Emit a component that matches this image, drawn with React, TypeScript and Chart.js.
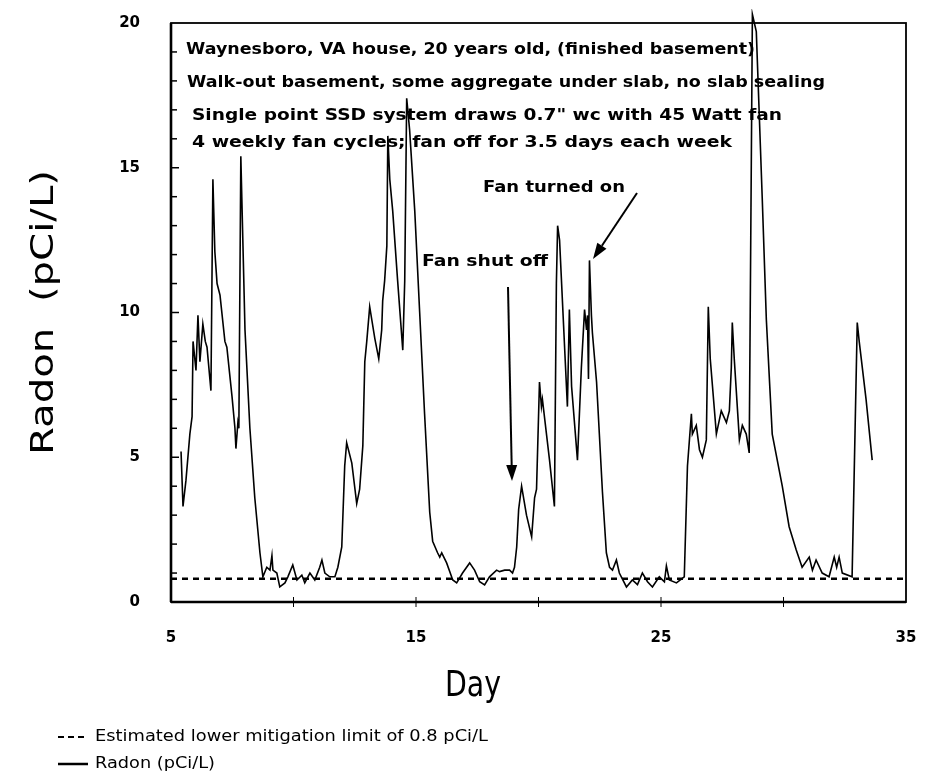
import React, { useEffect, useRef } from "react";
import { Chart, registerables } from "chart.js";

Chart.register(...registerables);

// ---- data ----
const days = [5.41,5.49,5.61,5.77,5.86,5.90,6.02,6.10,6.18,6.30,6.40,6.47,6.63,6.71,6.79,6.88,7.00,7.20,7.28,7.49,7.61,7.65,7.73,7.77,7.85,8.02,8.22,8.42,8.63,8.75,8.91,9.04,9.12,9.16,9.32,9.44,9.65,9.77,9.97,10.14,10.34,10.46,10.67,10.87,11.07,11.16,11.28,11.48,11.69,11.81,11.97,12.09,12.17,12.38,12.58,12.70,12.83,12.91,12.99,13.11,13.32,13.48,13.60,13.64,13.72,13.81,13.85,13.93,14.05,14.25,14.46,14.54,14.62,14.74,14.95,15.15,15.35,15.56,15.68,15.88,15.97,16.05,16.25,16.50,16.66,16.90,17.19,17.39,17.60,17.80,18.00,18.29,18.41,18.62,18.82,18.94,19.02,19.11,19.19,19.31,19.51,19.72,19.84,19.92,20.04,20.12,20.16,20.45,20.65,20.73,20.78,20.86,21.14,21.18,21.26,21.35,21.59,21.75,21.88,21.96,22.00,22.04,22.08,22.16,22.20,22.37,22.61,22.77,22.90,23.02,23.18,23.30,23.59,23.83,24.04,24.24,24.45,24.65,24.93,25.14,25.22,25.34,25.63,25.95,26.08,26.24,26.28,26.44,26.57,26.69,26.85,26.93,27.01,27.26,27.46,27.67,27.79,27.87,27.91,27.99,28.20,28.32,28.48,28.60,28.73,28.89,29.13,29.30,29.54,29.95,30.23,30.52,30.76,31.05,31.18,31.33,31.58,31.86,32.07,32.17,32.27,32.40,32.80,33.01,33.09,33.37,33.62];
const radon = [5.2,3.3,4.2,5.8,6.4,9.0,8.0,9.9,8.3,9.6,9.0,8.8,7.3,14.6,12.1,11.0,10.6,9.0,8.8,7.1,6.0,5.3,6.2,6.0,15.4,9.4,6.0,3.6,1.7,0.87,1.2,1.1,1.6,1.1,1.0,0.52,0.66,0.87,1.28,0.76,0.93,0.66,1.0,0.76,1.2,1.45,1.0,0.87,0.87,1.2,1.9,4.7,5.5,4.8,3.4,3.9,5.4,8.3,9.0,10.2,9.1,8.4,9.4,10.4,11.1,12.3,16.1,14.6,13.5,11.1,8.7,11.1,17.4,16.3,13.5,10.0,6.5,3.1,2.1,1.7,1.55,1.7,1.35,0.76,0.66,1.0,1.35,1.1,0.7,0.59,0.87,1.1,1.05,1.1,1.1,1.0,1.2,1.9,3.2,4.0,3.0,2.25,3.6,3.9,7.6,6.75,7.0,4.9,3.3,11.0,13.0,12.5,7.45,6.75,10.1,7.45,4.9,8.1,10.1,9.4,9.9,7.7,11.8,9.9,9.3,7.6,3.8,1.7,1.2,1.1,1.45,1.0,0.52,0.76,0.6,1.0,0.7,0.52,0.87,0.7,1.25,0.76,0.66,0.87,4.7,6.5,5.8,6.1,5.26,5.0,5.6,10.2,8.4,5.8,6.6,6.2,6.6,8.1,9.65,8.4,5.6,6.1,5.8,5.15,20.3,19.7,14.0,9.75,5.8,4.0,2.6,1.8,1.2,1.55,1.1,1.45,1.0,0.87,1.55,1.2,1.55,1.0,0.87,9.65,9.0,7.0,4.9];
const limitValue = 0.8;
const xMin = 5, xMax = 35;
const yMin = 0, yMax = 20;
const xLabelTicks = [5, 15, 25, 35];
const yLabelTicks = [0, 5, 10, 15, 20];
const noteLines = [
  "Waynesboro, VA house, 20 years old, (finished basement)",
  "Walk-out basement, some aggregate under slab, no slab sealing",
  "Single point SSD system draws 0.7\" wc with 45 Watt fan",
  "4 weekly fan cycles; fan off for 3.5 days each week",
];
const fanOnText = "Fan turned on";
const fanOffText = "Fan shut off";
const legendLimit = "Estimated lower mitigation limit of 0.8 pCi/L";
const legendRadon = "Radon (pCi/L)";
const xTitle = "Day";
const yTitle = "Radon  (pCi/L)";

function fitText(ctx: CanvasRenderingContext2D, text: string, x: number, y: number, w: number, font: string) {
  ctx.font = font;
  const m = ctx.measureText(text).width;
  ctx.save();
  ctx.translate(x, y);
  ctx.scale(w / m, 1);
  ctx.textAlign = "left";
  ctx.textBaseline = "middle";
  ctx.fillText(text, 0, 0);
  ctx.restore();
}

function arrow(ctx: CanvasRenderingContext2D, x1: number, y1: number, x2: number, y2: number) {
  const ang = Math.atan2(y2 - y1, x2 - x1);
  const hl = 16, hw = 5.5;
  const bx = x2 - hl * Math.cos(ang), by = y2 - hl * Math.sin(ang);
  ctx.lineWidth = 2;
  ctx.beginPath();
  ctx.moveTo(x1, y1);
  ctx.lineTo(bx, by);
  ctx.stroke();
  ctx.beginPath();
  ctx.moveTo(x2, y2);
  ctx.lineTo(bx + hw * Math.sin(ang), by - hw * Math.cos(ang));
  ctx.lineTo(bx - hw * Math.sin(ang), by + hw * Math.cos(ang));
  ctx.closePath();
  ctx.fill();
}

const decorPlugin = {
  id: "decor",
  afterDraw(chart: any) {
    const { ctx, chartArea: a, scales } = chart;
    const xs = scales.x, ys = scales.y;
    ctx.save();
    ctx.strokeStyle = "#000";
    ctx.fillStyle = "#000";
    ctx.setLineDash([]);
    // frame
    ctx.lineWidth = 1.8;
    ctx.strokeRect(a.left, a.top, a.right - a.left, a.bottom - a.top);
    ctx.lineWidth = 2.6;
    ctx.beginPath();
    ctx.moveTo(a.left, a.bottom);
    ctx.lineTo(a.right, a.bottom);
    ctx.moveTo(a.left, a.top);
    ctx.lineTo(a.left, a.bottom);
    ctx.stroke();
    // y minor ticks inside
    ctx.lineWidth = 1.5;
    for (let v = yMin + 1; v < yMax; v++) {
      const py = ys.getPixelForValue(v);
      ctx.beginPath();
      ctx.moveTo(a.left, py);
      ctx.lineTo(a.left + (v % 5 === 0 ? 8 : 6), py);
      ctx.stroke();
    }
    // x ticks
    ctx.lineWidth = 1;
    for (let d = xMin + 5; d < xMax; d += 5) {
      const px = xs.getPixelForValue(d);
      ctx.beginPath();
      ctx.moveTo(px, a.bottom - 5);
      ctx.lineTo(px, a.bottom + 5);
      ctx.stroke();
    }
    // notes
    const noteFont = "bold 15px 'DejaVu Sans'";
    const notePos = [
      [186, 50, 569],
      [187, 83, 638],
      [192, 116, 590],
      [192, 143, 540],
    ];
    noteLines.forEach((t, i) => fitText(ctx, t, notePos[i][0], notePos[i][1], notePos[i][2], noteFont));
    fitText(ctx, fanOnText, 483, 188, 142, noteFont);
    fitText(ctx, fanOffText, 422, 262, 126, noteFont);
    arrow(ctx, 508, 287, 512, 481);
    arrow(ctx, 637, 193, 593, 259);
    // axis titles
    fitText(ctx, xTitle, 445, 687, 56, "36px 'DejaVu Sans'");
    ctx.save();
    ctx.translate(45, 455);
    ctx.rotate(-Math.PI / 2);
    fitText(ctx, yTitle, 0, 0, 285, "32px 'DejaVu Sans'");
    ctx.restore();
    // legend
    const legFont = "15px 'DejaVu Sans'";
    ctx.lineWidth = 2;
    ctx.setLineDash([6, 4]);
    ctx.beginPath();
    ctx.moveTo(58, 737);
    ctx.lineTo(88, 737);
    ctx.stroke();
    ctx.setLineDash([]);
    ctx.lineWidth = 2.5;
    ctx.beginPath();
    ctx.moveTo(58, 764);
    ctx.lineTo(88, 764);
    ctx.stroke();
    fitText(ctx, legendLimit, 95, 737, 393, legFont);
    fitText(ctx, legendRadon, 95, 764, 120, legFont);
    ctx.restore();
  },
};

export default function App() {
  const ref = useRef<HTMLCanvasElement | null>(null);
  useEffect(() => {
    if (!ref.current) return;
    const radonPts = days.map((d, i) => ({ x: d, y: radon[i] }));
    const limitPts = [
      { x: xMin, y: limitValue },
      { x: xMax, y: limitValue },
    ];
    const tickFont = { family: "'DejaVu Sans'", size: 15, weight: "bold" as const };
    const chart = new Chart(ref.current, {
      type: "line",
      data: {
        datasets: [
          {
            label: legendLimit,
            data: limitPts,
            borderColor: "#000",
            borderWidth: 2.5,
            borderDash: [6, 5],
            pointRadius: 0,
            fill: false,
          },
          {
            label: legendRadon,
            data: radonPts,
            borderColor: "#000",
            borderWidth: 1.6,
            pointRadius: 0,
            tension: 0,
            fill: false,
            clip: 14,
          },
        ],
      },
      options: {
        responsive: false,
        animation: false,
        layout: { padding: { top: 23, right: 23, left: 0, bottom: 0 } },
        plugins: { legend: { display: false }, tooltip: { enabled: false }, title: { display: false } },
        scales: {
          x: {
            type: "linear",
            min: xMin,
            max: xMax,
            grid: { display: false },
            border: { display: false },
            ticks: {
              stepSize: 5,
              padding: 19,
              color: "#000",
              font: tickFont,
              maxRotation: 0,
              callback: (v: any) => (xLabelTicks.includes(Number(v)) ? String(v) : ""),
            },
            afterFit: (s: any) => {
              s.height = 174;
              s.paddingLeft = 0;
              s.paddingRight = 0;
            },
          },
          y: {
            type: "linear",
            min: yMin,
            max: yMax,
            grid: { display: false },
            border: { display: false },
            ticks: {
              stepSize: 5,
              padding: 23,
              color: "#000",
              font: tickFont,
              callback: (v: any) => (yLabelTicks.includes(Number(v)) ? String(v) : ""),
            },
            afterFit: (s: any) => {
              s.width = 171;
              s.paddingTop = 0;
              s.paddingBottom = 0;
            },
          },
        },
      },
      plugins: [decorPlugin],
    });
    return () => chart.destroy();
  }, []);
  return (
    <div style={{ position: "absolute", left: 0, top: 0, width: 929, height: 776, background: "#fff" }}>
      <canvas ref={ref} width={929} height={776} />
    </div>
  );
}
